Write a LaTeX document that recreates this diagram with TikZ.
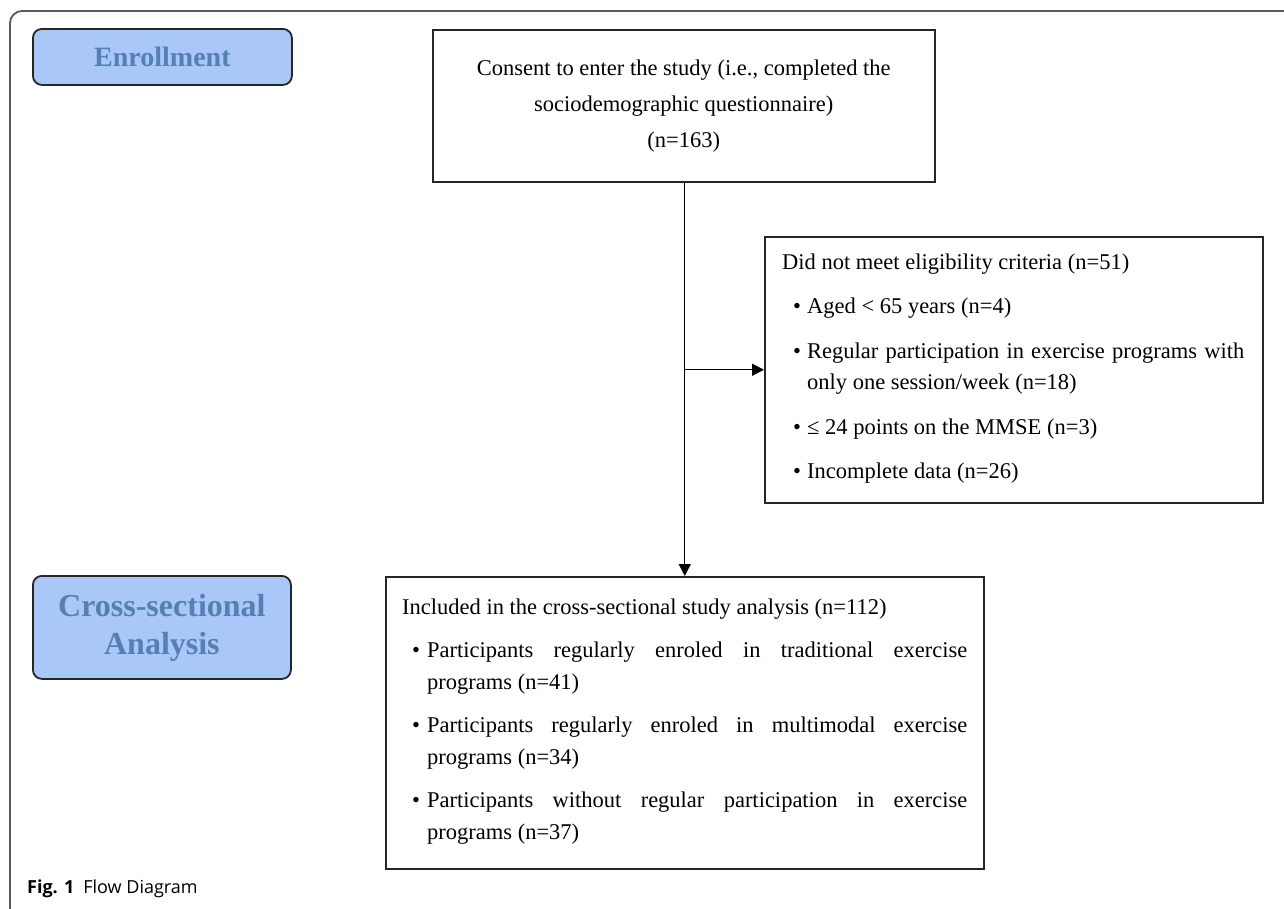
\documentclass[tikz,border=0pt]{standalone}
\usepackage{fontspec}
\setmainfont{Liberation Serif}
\newfontfamily\capfont{Open Sans}
\usetikzlibrary{arrows.meta}
\definecolor{phasefill}{HTML}{A9C7F7}
\definecolor{phasetext}{HTML}{5480B4}
\definecolor{framegray}{HTML}{5A5A5A}
\newcommand{\bulitem}[3]{\par\hangindent=#2\hangafter=1\noindent\hspace*{#1}\makebox[\dimexpr#2-#1\relax][l]{\textbullet}#3}
\begin{document}
\begin{tikzpicture}[x=1pt,y=-1pt,
  phase/.style={draw=black!85, line width=1.8pt, fill=phasefill, rounded corners=9pt, anchor=north west, inner sep=0pt, align=center, text=phasetext},
  flowbox/.style={draw=black!85, line width=1.5pt, anchor=north west, inner sep=0pt},
  boxtext/.style={anchor=north west, inner sep=0pt, align=justify},
  arr/.style={line width=1.4pt, -{Triangle[length=12pt,width=12pt]}},
  ]
\useasboundingbox (0,0) rectangle (1284,908);
\draw[framegray, line width=1.8pt, rounded corners=12pt] (1300,11) -- (10,11) -- (10,920) -- (40,920);

\node[phase, minimum width=259, minimum height=56, font=\fontsize{28}{34}\selectfont\bfseries] (enr) at (32,28) {Enrollment};
\node[phase, minimum width=258, minimum height=103, font=\fontsize{32}{38}\selectfont\bfseries] (csa) at (32,575) {Cross-sectional\\Analysis};

\node[flowbox, align=center, minimum width=502, minimum height=152, font=\fontsize{22.5}{36}\selectfont] (cons) at (432,29)
  {Consent to enter the study (i.e., completed the\\sociodemographic questionnaire)\\(n=163)};

\node[flowbox, minimum width=498, minimum height=266] (excl) at (764,236) {};
\node[boxtext, text width=462, font=\fontsize{22.5}{31.5}\selectfont] (excltext) at (782,251) {%
  \setlength{\parskip}{13pt}\rule{0pt}{18pt}Did not meet eligibility criteria (n=51)
  \bulitem{11pt}{25pt}{Aged < 65 years (n=4)}
  \bulitem{11pt}{25pt}{Regular participation in exercise programs with\linebreak only one session/week (n=18)}
  \bulitem{11pt}{25pt}{≤ 24 points on the MMSE (n=3)}
  \bulitem{11pt}{25pt}{Incomplete data (n=26)}\par};

\node[flowbox, minimum width=598, minimum height=292] (incl) at (385,576) {};
\node[boxtext, text width=565, font=\fontsize{22.5}{32}\selectfont] (incltext) at (402,596) {%
  \setlength{\parskip}{11pt}\rule{0pt}{18pt}Included in the cross-sectional study analysis (n=112)
  \bulitem{10pt}{25pt}{Participants regularly enroled in traditional exercise\linebreak programs (n=41)}
  \bulitem{10pt}{25pt}{Participants regularly enroled in multimodal exercise\linebreak programs (n=34)}
  \bulitem{10pt}{25pt}{Participants without regular participation in exercise\linebreak programs (n=37)}\par};

\coordinate (br) at (incl.north |- excl.west);
\draw[arr] (cons.south -| incl.north) -- (incl.north);
\draw[arr] (br) -- (excl.west);

\node[anchor=base west, inner sep=0pt, font=\capfont\fontsize{18}{18}\selectfont] (cap) at (27,893) {\textbf{Fig. 1}\hspace{9pt}Flow Diagram};
\end{tikzpicture}
\end{document}
